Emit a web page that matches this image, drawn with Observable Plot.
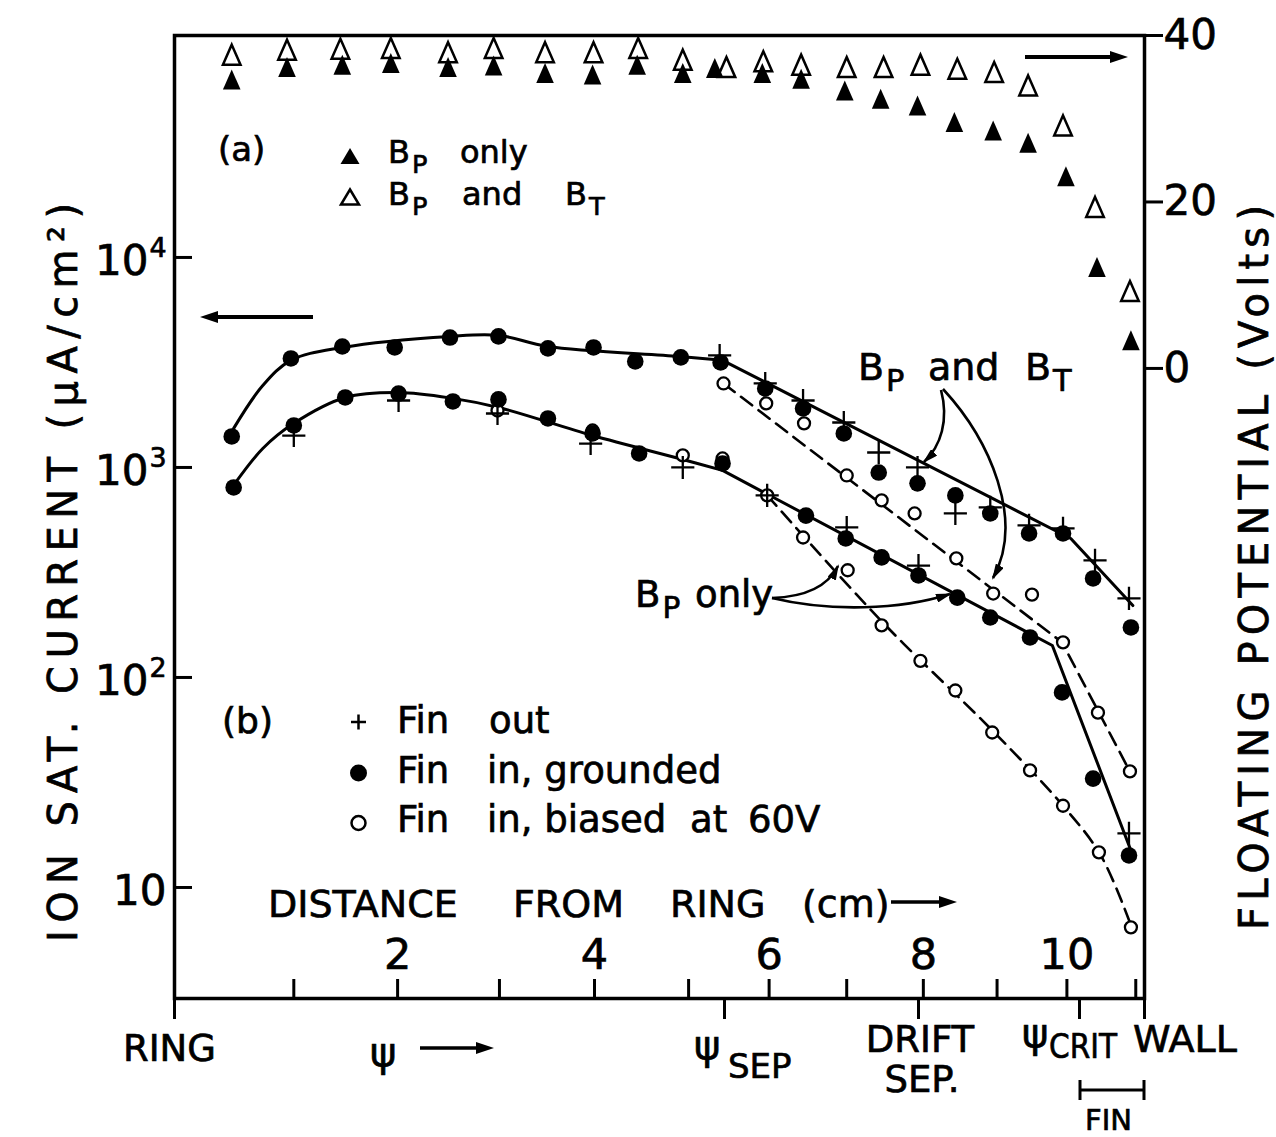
<!DOCTYPE html>
<html><head><meta charset="utf-8">
<script src="https://cdn.jsdelivr.net/npm/d3@7"></script>
<script src="https://cdn.jsdelivr.net/npm/@observablehq/plot@0.6"></script>
<style>
html,body{margin:0;padding:0;background:#fff;}
#wrap{position:relative;width:1276px;height:1137px;overflow:hidden;background:#fff;}
#wrap > svg{position:absolute;left:0;top:0;}
#wrap text{stroke:black;stroke-width:0.7px;}
</style></head>
<body><div id="wrap"></div>
<script>
// ---------- DATA (x = psi, 0 = ring, 100 = wall) ----------
// (a) floating potential, volts
const potBpPsi   = [5.9, 11.6, 17.3, 22.3, 28.2, 32.9, 38.2, 43.1, 47.7, 52.4, 55.7, 60.6, 64.6, 69.1, 72.8, 76.6, 80.4, 84.4, 88.0, 91.9, 95.1, 98.6];
const potBp      = [34.3, 35.8, 36.1, 36.3, 35.8, 36.0, 35.1, 34.9, 36.1, 35.1, 35.7, 35.1, 34.4, 33.0, 32.0, 31.2, 29.2, 28.2, 26.7, 22.7, 11.8, 3.0];
const potBpBtPsi = [5.9, 11.6, 17.1, 22.3, 28.2, 32.9, 38.2, 43.2, 47.8, 52.4, 56.9, 60.7, 64.6, 69.3, 73.1, 76.9, 80.7, 84.5, 88.0, 91.6, 94.9, 98.5];
const potBpBt    = [37.3, 37.9, 38.0, 38.1, 37.6, 38.1, 37.6, 37.6, 38.1, 36.7, 35.8, 36.5, 36.1, 35.8, 35.8, 36.1, 35.6, 35.2, 33.6, 28.8, 19.0, 8.9];

// (b) ion saturation current, uA/cm^2 — B_P and B_T
const btGroundPsi = [5.9, 12.0, 17.3, 22.7, 28.4, 33.4, 38.5, 43.2, 47.5, 52.2, 56.3, 60.9, 64.8, 69.0, 72.6, 76.6, 80.5, 84.1, 88.1, 91.6, 94.7, 98.6];
const btGround    = [1405, 3304, 3767, 3728, 4155, 4209, 3690, 3728, 3199, 3343, 3162, 2378, 1911, 1452, 946, 840, 736, 604, 485, 485, 296, 173];
const btFinOutPsi = [56.2, 60.9, 64.8, 69.0, 72.6, 76.6, 80.5, 84.1, 88.1, 91.6, 94.9, 98.4];
const btFinOut    = [3414, 2512, 2084, 1637, 1178, 1000, 604, 646, 530, 513, 361, 238];
const btBiasPsi   = [56.6, 61.0, 64.9, 69.3, 72.9, 76.3, 80.6, 84.4, 88.4, 91.6, 95.2, 98.5];
const btBias      = [2512, 2018, 1622, 916, 697, 604, 369, 251, 248, 147, 68, 35.7];
// B_P only
const bpGroundPsi = [6.1, 12.3, 17.6, 23.1, 28.7, 33.4, 38.5, 43.1, 47.9, 56.5, 65.1, 69.2, 72.9, 76.7, 80.7, 84.1, 88.2, 91.5, 94.7, 98.4];
const bpGround    = [803, 1585, 2154, 2249, 2062, 2109, 1711, 1452, 1166, 1045, 590, 459, 373, 306, 240, 193, 155, 84.9, 33.0, 14.2];
const bpFinOutPsi = [12.3, 23.1, 33.3, 42.9, 52.4, 61.1, 69.3, 76.7, 98.4];
const bpFinOut    = [1419, 2084, 1807, 1300, 1000, 736, 518, 341, 18.1];
const bpBiasPsi   = [33.3, 43.1, 52.4, 56.5, 61.1, 64.8, 69.4, 72.9, 76.9, 80.5, 84.3, 88.2, 91.6, 95.3, 98.6];
const bpBias      = [1866, 1500, 1141, 1104, 736, 464, 324, 177, 120, 86.7, 54.7, 36.1, 24.5, 14.7, 6.46];

// hand-drawn fit lines
const fitBtCurvePsi = [6.1, 9.1, 12.0, 17.3, 28.4, 33.4, 38.5, 52.0, 56.5];
const fitBtCurve    = [1535, 2455, 3236, 3728, 4209, 4256, 3767, 3379, 3236];
const fitBtLinePsi  = [56.5, 92.4, 98.8];
const fitBtLine     = [3236, 459, 220];
const fitBpCurvePsi = [6.3, 9.1, 12.3, 17.6, 23.1, 28.7, 33.4, 43.1, 52.4, 56.5];
const fitBpCurve    = [848, 1231, 1622, 2154, 2275, 2133, 1931, 1419, 1092, 968];
const fitBpLinePsi  = [56.5, 90.5, 98.6];
const fitBpLine     = [968, 142, 15.0];
const fitBtDashPsi  = [56.6, 91.5, 98.6];
const fitBtDash     = [2512, 147, 34.9];
const fitBpDashPsi  = [61.1, 73.1, 84.3, 91.6, 95.5, 98.6];
const fitBpDash     = [736, 181, 56.0, 24.5, 14.2, 6.6];

// axes
const yDecades    = [10, 100, 1000, 10000];
const voltTicks   = [0, 20, 40];
const distTickCm  = [1, 2, 3, 4, 5, 6, 7, 8, 9, 10, 11];
const distTickPsi = [12.3, 23.0, 33.5, 43.3, 53.0, 61.3, 69.3, 77.2, 84.8, 92.0, 99.1];
const psiMarkPsi  = [0, 56.7, 76.7, 93.3, 100];
const psiMarkName = ["RING", "ψSEP", "DRIFT SEP.", "ψCRIT", "WALL"];

// ---------- helpers ----------
const W = 1276, H = 1137;
const M = {top: 35, right: 132, bottom: 139, left: 174};
const FW = W - M.left - M.right, FH = H - M.top - M.bottom;
const FONT = '"DejaVu Sans", sans-serif';
const pts = (xs, ys) => xs.map((x, i) => ({psi: x, v: ys[i]}));
const tri = {draw(ctx, size) {
  const r = Math.sqrt(size / Math.PI), h = r * 2.5, w = r * 2.2;
  ctx.moveTo(0, -h * 2 / 3); ctx.lineTo(w / 2, h / 3); ctx.lineTo(-w / 2, h / 3); ctx.closePath();
}};

function rich(t, s, base) {
  t.text(null);
  const re = /([_^])\{([^}]*)\}/g;
  let last = 0, m, shift = 0;
  const seg = (str, target, size, dx) => {
    if (!str) return;
    const ts = t.append("tspan").text(str);
    if (target !== shift) ts.attr("dy", target - shift);
    if (size) ts.attr("font-size", size);
    if (dx) ts.attr("dx", dx);
    shift = target;
  };
  while ((m = re.exec(s))) {
    seg(s.slice(last, m.index), 0);
    if (m[1] === "_") seg(m[2], base * 0.3, base * 0.8, 2);
    else seg(m[2], -base * 0.42, base * 0.64, 1);
    last = re.lastIndex;
  }
  seg(s.slice(last), 0);
}

const wrap = document.getElementById("wrap");
const common = {width: W, height: H, marginTop: M.top, marginRight: M.right, marginBottom: M.bottom, marginLeft: M.left};

// ---------- current plot (log) ----------
const distLabels = distTickPsi.map((p, i) => ({psi: p, cm: distTickCm[i]})).filter(d => d.cm % 2 === 0);
const p1 = Plot.plot({
  ...common,
  style: {background: "transparent", fontFamily: FONT, color: "black", overflow: "visible"},
  x: {domain: [0, 100], axis: null},
  y: {type: "log", domain: [2.96, 114000]},
  marks: [
    Plot.axisY({anchor: "left", ticks: yDecades, tickSize: 0, tickPadding: 8, fontSize: 42, dy: 4,
      tickFormat: d => d === 10 ? "10" : "10^{" + Math.round(Math.log10(d)) + "}", label: null}),
    Plot.tickY(yDecades, {y: d => d, insetRight: FW - 18, strokeWidth: 3}),
    Plot.tickX(distTickPsi, {x: d => d, insetTop: FH - 19, strokeWidth: 3}),
    Plot.tickX(psiMarkPsi, {x: d => d, insetTop: FH, insetBottom: -21, strokeWidth: 3}),
    Plot.text(distLabels, {x: "psi", text: "cm", frameAnchor: "bottom", dy: -30, fontSize: 43}),
    Plot.line(pts(fitBtCurvePsi, fitBtCurve), {x: "psi", y: "v", curve: "catmull-rom", strokeWidth: 3}),
    Plot.line(pts(fitBtLinePsi, fitBtLine), {x: "psi", y: "v", strokeWidth: 3}),
    Plot.line(pts(fitBpCurvePsi, fitBpCurve), {x: "psi", y: "v", curve: "catmull-rom", strokeWidth: 3}),
    Plot.line(pts(fitBpLinePsi, fitBpLine), {x: "psi", y: "v", strokeWidth: 3}),
    Plot.line(pts(fitBtDashPsi, fitBtDash), {x: "psi", y: "v", strokeWidth: 2.6, strokeDasharray: "14,8"}),
    Plot.line(pts(fitBpDashPsi, fitBpDash), {x: "psi", y: "v", curve: "catmull-rom", strokeWidth: 2.6, strokeDasharray: "14,8"}),
    Plot.dot(pts(btBiasPsi, btBias), {x: "psi", y: "v", r: 6, fill: "white", stroke: "black", strokeWidth: 2.3}),
    Plot.dot(pts(bpBiasPsi, bpBias), {x: "psi", y: "v", r: 6, fill: "white", stroke: "black", strokeWidth: 2.3}),
    Plot.dot(pts(btGroundPsi, btGround), {x: "psi", y: "v", r: 8.3, fill: "black"}),
    Plot.dot(pts(bpGroundPsi, bpGround), {x: "psi", y: "v", r: 8.3, fill: "black"}),
    Plot.dot(pts(btFinOutPsi, btFinOut), {x: "psi", y: "v", symbol: "plus", r: 7.5, stroke: "black", strokeWidth: 2.3}),
    Plot.dot(pts(bpFinOutPsi, bpFinOut), {x: "psi", y: "v", symbol: "plus", r: 7.5, stroke: "black", strokeWidth: 2.3}),
    Plot.frame({strokeWidth: 3.5})
  ]
});
wrap.appendChild(p1);
d3.select(p1).selectAll("text").each(function () {
  const s = this.textContent;
  if (/[_^]\{/.test(s)) rich(d3.select(this), s, 42);
});

// ---------- potential plot (linear, right axis) ----------
const p2 = Plot.plot({
  ...common,
  style: {background: "transparent", fontFamily: FONT, color: "black", overflow: "visible"},
  x: {domain: [0, 100], axis: null},
  y: {domain: [-75.7, 40]},
  marks: [
    Plot.axisY({anchor: "right", ticks: voltTicks, tickSize: 18, tickPadding: 1, fontSize: 42, strokeWidth: 3, label: null}),
    Plot.dot(pts(potBpBtPsi, potBpBt), {x: "psi", y: "v", symbol: tri, r: 8, fill: "white", stroke: "black", strokeWidth: 2.5}),
    Plot.dot(pts(potBpPsi, potBp), {x: "psi", y: "v", symbol: tri, r: 8, fill: "black"})
  ]
});
wrap.appendChild(p2);

// ---------- annotation layer ----------
const ov = d3.select(wrap).append("svg").attr("width", W).attr("height", H)
  .style("font-family", FONT).attr("fill", "black");
const defs = ov.append("defs");
defs.append("marker").attr("id", "hb").attr("viewBox", "0 0 18 12").attr("refX", 8).attr("refY", 6)
  .attr("markerWidth", 18).attr("markerHeight", 12).attr("markerUnits", "userSpaceOnUse").attr("orient", "auto")
  .append("path").attr("d", "M0,0L18,6L0,12Z");
defs.append("marker").attr("id", "hs").attr("viewBox", "0 0 16 9").attr("refX", 14).attr("refY", 4.5)
  .attr("markerWidth", 16).attr("markerHeight", 9).attr("markerUnits", "userSpaceOnUse").attr("orient", "auto")
  .append("path").attr("d", "M0,0L16,4.5L0,9Z");

function arrow(x1, y1, tx, ty, sw) {
  const dx = tx - x1, dy = ty - y1, L = Math.hypot(dx, dy);
  ov.append("line").attr("x1", x1).attr("y1", y1)
    .attr("x2", tx - dx / L * 10).attr("y2", ty - dy / L * 10)
    .attr("stroke", "black").attr("stroke-width", sw).attr("marker-end", "url(#hb)");
}
function curved(d) {
  ov.append("path").attr("d", d).attr("fill", "none").attr("stroke", "black")
    .attr("stroke-width", 2.6).attr("marker-end", "url(#hs)");
}
function label(s, x, y, size, o = {}) {
  const t = ov.append("text").attr("x", x).attr("y", y).attr("font-size", size);
  if (o.anchor) t.attr("text-anchor", o.anchor);
  if (o.rotate) t.attr("transform", `rotate(${o.rotate},${x},${y})`);
  if (o.len) t.attr("textLength", o.len).attr("lengthAdjust", o.adj || "spacing");
  rich(t, s, size);
}

// axis titles
label("ION  SAT.  CURRENT  (μA/cm²)", 77, 942, 40, {rotate: -90, len: 739});
label("FLOATING  POTENTIAL  (Volts)", 1268, 930, 40, {rotate: -90, len: 725});

// legend (a)
label("(a)", 218, 161, 34);
const triPath = (cx, cy, w, h) => `M${cx},${cy - h / 2}L${cx + w / 2},${cy + h / 2}L${cx - w / 2},${cy + h / 2}Z`;
ov.append("path").attr("d", triPath(350, 156, 19, 16)).attr("fill", "black");
ov.append("path").attr("d", triPath(350, 197, 18, 15)).attr("fill", "white").attr("stroke", "black").attr("stroke-width", 2.5);
label("B_{P}", 388, 163, 32); label("only", 460, 163, 32);
label("B_{P}", 388, 205, 32); label("and", 462, 205, 32); label("B_{T}", 565, 205, 32);

// legend (b)
label("(b)", 222, 733, 36);
ov.append("path").attr("d", "M351,722H366M358.5,714.5V729.5").attr("stroke", "black").attr("stroke-width", 2.5);
ov.append("circle").attr("cx", 358.5).attr("cy", 773).attr("r", 8.5);
ov.append("circle").attr("cx", 358.5).attr("cy", 823).attr("r", 7).attr("fill", "white").attr("stroke", "black").attr("stroke-width", 2.5);
label("Fin", 397, 733, 37); label("out", 489, 733, 37);
label("Fin", 397, 783, 37); label("in, grounded", 487, 783, 37);
label("Fin", 397, 832, 37); label("in, biased", 487, 832, 37); label("at", 690, 832, 37); label("60V", 748, 832, 37);

// distance title
label("DISTANCE", 268, 917, 38); label("FROM", 513, 917, 38); label("RING", 670, 917, 38); label("(cm)", 802, 917, 38);
arrow(891, 902, 957, 902, 3.5);

// bottom psi labels
label("RING", 123, 1061, 37);
label("ψ", 370, 1066, 40);
arrow(420, 1048, 494, 1048, 3.5);
label("ψ", 694, 1059, 40); label("SEP", 728, 1078, 34);
label("DRIFT", 920, 1052, 37, {anchor: "middle"}); label("SEP.", 922, 1092, 37, {anchor: "middle"});
label("ψ", 1022, 1047, 40); label("CRIT", 1049, 1058, 34, {len: 68, adj: "spacingAndGlyphs"});
label("WALL", 1133, 1052, 38);
ov.append("path").attr("d", "M1080,1090H1144M1080,1080V1100M1144,1080V1100").attr("stroke", "black").attr("stroke-width", 3).attr("fill", "none");
label("FIN", 1085, 1130, 29);

// scale arrows
arrow(313, 317, 200, 317, 4);
arrow(1025, 57, 1128, 57, 4);

// curve annotations
label("B_{P}", 858, 380, 38); label("and", 928, 380, 38); label("B_{T}", 1025, 380, 38);
curved("M941,390C949,420 941,446 924,462");
curved("M943,389C990,440 1025,520 993,578");
label("B_{P}", 635, 607, 37); label("only", 695, 607, 37);
curved("M772,598C800,597 826,590 838,566");
curved("M772,598C830,612 900,610 950,594");
</script></body></html>
